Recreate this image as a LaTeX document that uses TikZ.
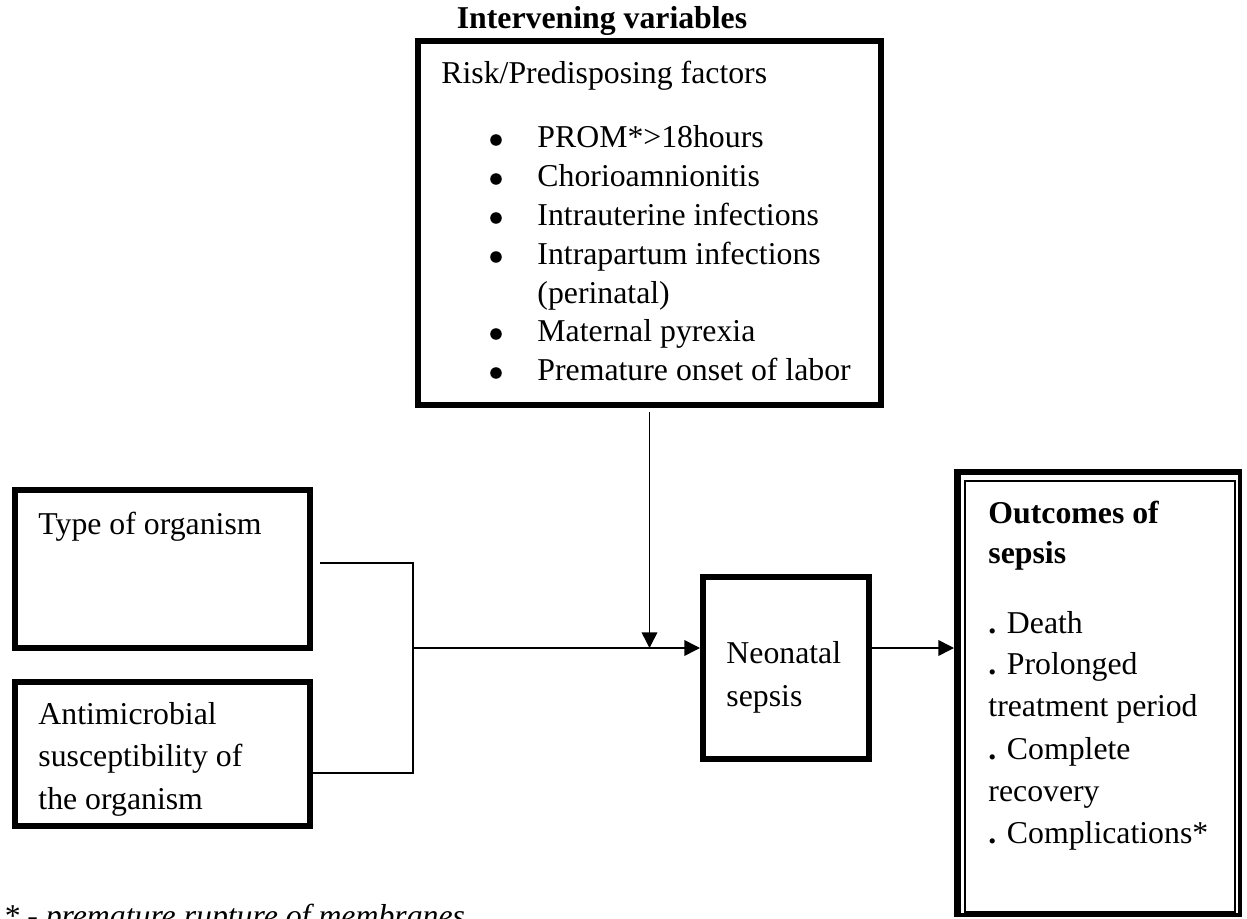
\documentclass[tikz,border=0pt]{standalone}
\usepackage{fontspec}
\setmainfont{Liberation Serif}
\usetikzlibrary{arrows.meta,calc}
\begin{document}
\begin{tikzpicture}[x=0.45pt,y=-0.45pt,
  every node/.style={font=\fontsize{14.3pt}{16pt}\selectfont},
  box/.style={draw, line width=2.7pt, inner sep=0pt},
  sz/.style 2 args={minimum width=#1*0.45pt, minimum height=#2*0.45pt},
  txt/.style={anchor=base west, inner sep=0pt},
  bul/.style={circle, fill, inner sep=0pt, minimum size=5.2pt},
  conn/.style={line width=0.7pt},
  arr/.style={conn, -{Triangle[length=7pt,width=7pt]}}]
\useasboundingbox (0,0) rectangle (1247,919);
% boxes
\node[box, sz={463}{364}] (risk) at (649.5,223) {};
\node[box, sz={295}{158}] (type) at (162.5,569) {};
\node[box, sz={295}{144}] (anti) at (162.5,754) {};
\node[box, sz={166}{182}] (neo) at (786,668) {};
\node[draw, line width=1.8pt, inner sep=0pt, sz={284}{444}] (out) at (1098,693) {};
\draw[line width=1.35pt] ($(out.north west)+(5.5,0)$) -- ($(out.south west)+(5.5,0)$);
\draw[line width=0.9pt] ($(out.north west)+(0,5)$) -- ($(out.north east)+(0,5)$);
\draw[line width=0.6pt] ($(out.north west)+(11,12)$) rectangle ($(out.south east)+(-7,-5)$);
% title
\node[anchor=base, inner sep=0pt, font=\fontsize{14.3pt}{16pt}\selectfont\bfseries] (title) at (602,29) {Intervening variables};
% risk box text
\node[txt] (riskt) at (441,84) {Risk/Predisposing factors};
\foreach \yy/\lab in {148/{PROM*>18hours},187/{Chorioamnionitis},226/{Intrauterine infections},265/{Intrapartum infections},342/{Maternal pyrexia},381/{Premature onset of labor}}{
  \node[bul] at (496,\yy-8) {};
  \node[txt] at (537,\yy) {\lab};
}
\node[txt] at (537,304) {(perinatal)};
% left boxes text
\node[txt] (typet) at (38,534) {Type of organism};
\node[txt] at (38,724) {Antimicrobial};
\node[txt] at (38,766) {susceptibility of};
\node[txt] at (38,809) {the organism};
% neonatal
\node[txt] (neot) at (726,663) {Neonatal};
\node[txt] at (726,706) {sepsis};
% outcomes
\node[txt, font=\fontsize{14.3pt}{16pt}\selectfont\bfseries] (outt) at (988,523) {Outcomes of};
\node[txt, font=\fontsize{14.3pt}{16pt}\selectfont\bfseries] at (988,563) {sepsis};
\node[txt] at (988,633) {\textbf{.} Death};
\node[txt] at (988,674) {\textbf{.} Prolonged};
\node[txt] at (988,716) {treatment period};
\node[txt] at (988,759) {\textbf{.} Complete};
\node[txt] at (988,801) {recovery};
\node[txt] at (988,843) {\textbf{.} Complications*};
% footnote
\node[txt, font=\fontsize{14.3pt}{16pt}\selectfont\itshape] (fn) at (3,926) {* - premature rupture of membranes};
% connectors
\coordinate (j) at (413,648);
\draw[conn] ($(type.east)+(7,-6)$) -| (j);
\draw[conn] ($(anti.east)+(0,19)$) -| (j);
\draw[arr] (j) -- (neo.west |- j);
\draw[arr] ($(risk.south)+(0,4)$) -- (risk.south |- j);
\draw[arr] (neo.east |- j) -- (out.west |- j);
\end{tikzpicture}
\end{document}
